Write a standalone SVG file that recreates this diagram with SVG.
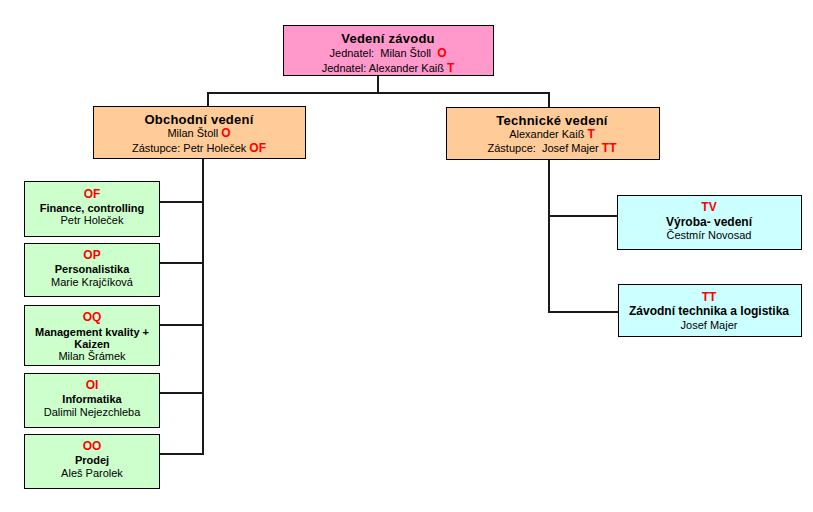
<svg xmlns="http://www.w3.org/2000/svg" width="813" height="512" viewBox="0 0 813 512">
<style>
text{font-family:"Liberation Sans",Arial,sans-serif;font-size:11px;fill:#000;text-anchor:middle;dominant-baseline:central}
.t{font-weight:bold;font-size:13px;letter-spacing:0.25px}
.b{font-weight:bold}
.r{fill:#FF0000;font-weight:bold;font-size:12px}
rect{stroke:#000;stroke-width:1}
.pink{fill:#FF99CC}.or{fill:#FFCC99}.gr{fill:#CCFFCC}.cy{fill:#CCFFFF}
.c line{stroke:#1a1a1a;stroke-width:2}
</style>
<rect width="813" height="512" fill="#fff" style="stroke:none"/>
<g class="c" id="connectors">
<line x1="378" y1="75" x2="378" y2="93"/>
<line x1="207" y1="93" x2="550" y2="93"/>
<line x1="208" y1="93" x2="208" y2="106"/>
<line x1="549" y1="93" x2="549" y2="107"/>
<line x1="203" y1="159" x2="203" y2="455"/>
<line x1="160" y1="202" x2="204" y2="202"/>
<line x1="160" y1="263" x2="204" y2="263"/>
<line x1="160" y1="325" x2="204" y2="325"/>
<line x1="160" y1="393" x2="204" y2="393"/>
<line x1="160" y1="454" x2="204" y2="454"/>
<line x1="549" y1="160" x2="549" y2="313"/>
<line x1="548" y1="216" x2="617" y2="216"/>
<line x1="548" y1="312" x2="618" y2="312"/>
</g>
<g id="vedeni">
<rect class="pink" x="283.5" y="25.5" width="210" height="50"/>
<text x="388" y="38" class="t">Vedení závodu</text>
<text x="388" y="53">Jednatel:&#160; Milan Štoll&#160; <tspan class="r">O</tspan></text>
<text x="388" y="68">Jednatel: Alexander Kaiß <tspan class="r">T</tspan></text>
</g>
<g id="obchodni">
<rect class="or" x="93.5" y="106.5" width="212" height="52"/>
<text x="199" y="119" class="t">Obchodní vedení</text>
<text x="199" y="133">Milan Štoll <tspan class="r">O</tspan></text>
<text x="199" y="148">Zástupce: Petr Holeček <tspan class="r">OF</tspan></text>
</g>
<g id="technicke">
<rect class="or" x="446.5" y="107.5" width="213" height="52"/>
<text x="552" y="120" class="t">Technické vedení</text>
<text x="552" y="134">Alexander Kaiß <tspan class="r">T</tspan></text>
<text x="552" y="148">Zástupce:&#160; Josef Majer <tspan class="r">TT</tspan></text>
</g>
<g id="OF">
<rect class="gr" x="24.5" y="181.5" width="135" height="55"/>
<text x="92" y="194" class="r">OF</text>
<text x="92" y="208" class="b">Finance, controlling</text>
<text x="92" y="220">Petr Holeček</text>
</g>
<g id="OP">
<rect class="gr" x="24.5" y="243.5" width="135" height="53"/>
<text x="92" y="255" class="r">OP</text>
<text x="92" y="269" class="b">Personalistika</text>
<text x="92" y="282">Marie Krajčíková</text>
</g>
<g id="OQ">
<rect class="gr" x="24.5" y="305.5" width="135" height="60"/>
<text x="92" y="317" class="r">OQ</text>
<text x="92" y="332" class="b">Management kvality +</text>
<text x="92" y="344" class="b">Kaizen</text>
<text x="92" y="356">Milan Šrámek</text>
</g>
<g id="OI">
<rect class="gr" x="24.5" y="373.5" width="135" height="54"/>
<text x="92" y="385" class="r">OI</text>
<text x="92" y="399" class="b">Informatika</text>
<text x="92" y="412">Dalimil Nejezchleba</text>
</g>
<g id="OO">
<rect class="gr" x="24.5" y="434.5" width="135" height="54"/>
<text x="92" y="446" class="r">OO</text>
<text x="92" y="460" class="b">Prodej</text>
<text x="92" y="473">Aleš Parolek</text>
</g>
<g id="TV">
<rect class="cy" x="617.5" y="195.5" width="184" height="54"/>
<text x="709" y="207" class="r">TV</text>
<text x="709" y="222" class="b" style="font-size:12px">Výroba- vedení</text>
<text x="709" y="235">Čestmír Novosad</text>
</g>
<g id="TT">
<rect class="cy" x="618.5" y="284.5" width="183" height="52"/>
<text x="709" y="297" class="r">TT</text>
<text x="709" y="311" class="b" style="font-size:12px">Závodní technika a logistika</text>
<text x="709" y="325">Josef Majer</text>
</g>
</svg>
